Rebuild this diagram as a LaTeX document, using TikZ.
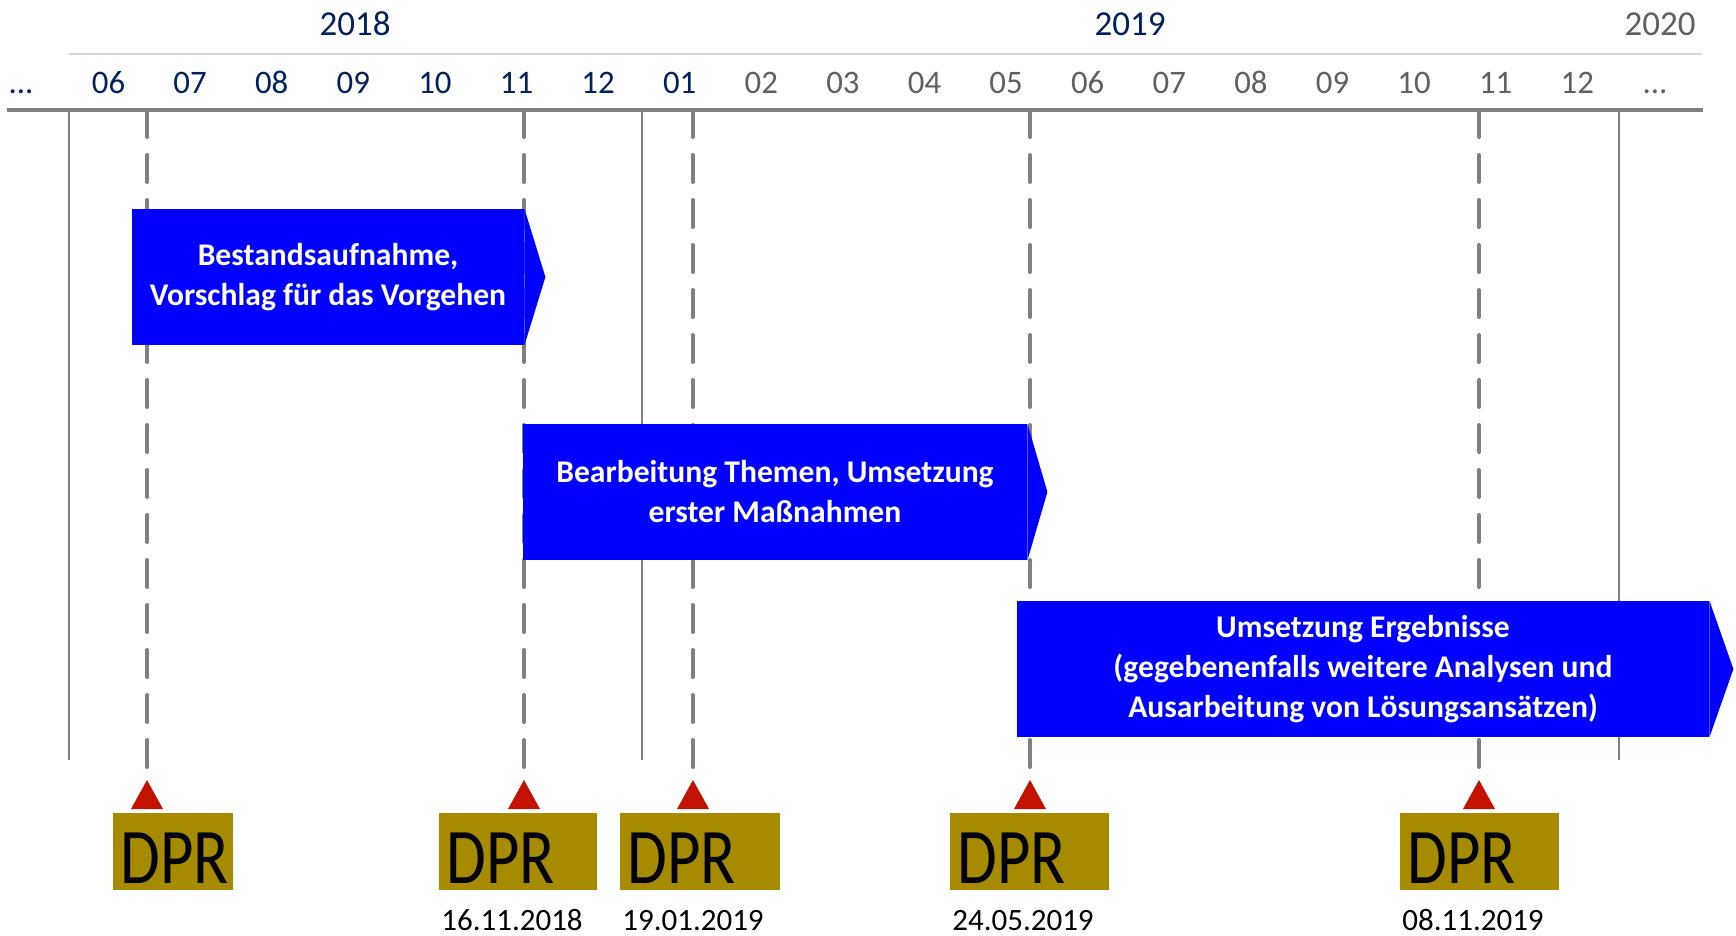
\documentclass[tikz,border=0pt]{standalone}
\usepackage{fontspec}
\setmainfont{Carlito}
\usepackage{graphicx}
\definecolor{navy}{RGB}{0,32,96}
\definecolor{monthgray}{RGB}{96,96,96}
\definecolor{axisgray}{RGB}{128,128,128}
\definecolor{linegray}{RGB}{217,217,217}
\definecolor{phaseblue}{RGB}{0,0,255}
\definecolor{dprolive}{RGB}{166,138,0}
\definecolor{markred}{RGB}{196,18,0}
\tikzset{
  month/.style={anchor=base,font=\fontsize{16.4}{19}\selectfont},
  yearlabel/.style={anchor=base,font=\fontsize{17.5}{21}\selectfont},
  phase/.style={fill=phaseblue,text=white,align=center,inner sep=0pt,
    minimum height=68pt,font=\bfseries\fontsize{15.8}{20}\selectfont},
  dpr/.style={fill=dprolive,anchor=north west,inner xsep=3.5pt,inner ysep=3.5pt,
    text height=31.5pt,text depth=0pt,align=left,font=\fontsize{39.4}{40}\selectfont},
  milestone/.style={axisgray,line width=2pt,dash pattern=on 13.5pt off 9pt,line cap=round},
  yearline/.style={axisgray,line width=1pt},
  datelabel/.style={anchor=base,font=\fontsize{15.5}{18}\selectfont}
}
\begin{document}
\begin{tikzpicture}[x=0.5pt,y=-0.5pt]
  \useasboundingbox (0,0) rectangle (1736,936);
  \node[yearlabel,navy] (y2018) at (355,36) {2018};
  \node[yearlabel,navy] (y2019) at (1130,36) {2019};
  \node[yearlabel,monthgray] (y2020) at (1660,36) {2020};
  \draw[linegray,line width=1pt] (69,54) -- (1702,54);
  \node[month,navy] (mstart) at (21,93.3) {...};
  \foreach \lab [count=\i from 0] in {06,07,08,09,10,11,12,01} {
    \node[month,navy] (m\i) at ({108.5+81.6*\i},93.3) {\lab};
  }
  \foreach \lab [count=\i from 8] in {02,03,04,05,06,07,08,09,10,11,12} {
    \node[month,monthgray] (m\i) at ({108.5+81.6*\i},93.3) {\lab};
  }
  \node[month,monthgray] (mend) at (1655,93.3) {...};
  \foreach \x in {69,642,1619} {
    \draw[yearline] (\x,110) -- (\x,760);
  }
  \foreach \x [count=\i] in {147,524,693,1030,1479} {
    \coordinate (top\i) at (\x,110);
    \coordinate (tip\i) at (\x,780);
    \draw[milestone] (top\i) -- (tip\i);
    \fill[markred] (tip\i) -- ++(16,29) -- ++(-32,0) -- cycle;
  }
  \draw[axisgray,line width=2pt] (7,110) -- (1703,110);
  \node[phase,minimum width=196pt] (a1) at (328,277)
    {Bestandsaufnahme,\\Vorschlag für das Vorgehen};
  \fill[phaseblue] (a1.north east) -- ([xshift=10.5pt]a1.east) -- (a1.south east) -- cycle;
  \node[phase,minimum width=252pt] (a2) at (775,492)
    {Bearbeitung Themen, Umsetzung\\erster Maßnahmen};
  \fill[phaseblue] (a2.north east) -- ([xshift=10pt]a2.east) -- (a2.south east) -- cycle;
  \node[phase,minimum width=346pt] (a3) at (1363,669)
    {Umsetzung Ergebnisse\\(gegebenenfalls weitere Analysen und\\Ausarbeitung von Lösungsansätzen)};
  \fill[phaseblue] (a3.north east) -- ([xshift=12pt]a3.east) -- (a3.south east) -- cycle;
  \foreach \x/\w [count=\i] in {113/60, 439/79, 620/80, 950/79.5, 1400/79.5} {
    \node[dpr,text width=\w pt-7pt] (dpr\i) at (\x,813) {\scalebox{0.82}[1]{DPR}};
  }
  \foreach \x/\lab [count=\i from 2] in {512/16.11.2018, 693/19.01.2019, 1023/24.05.2019, 1473/08.11.2019} {
    \node[datelabel] (date\i) at (\x,930) {\lab};
  }
\end{tikzpicture}
\end{document}
